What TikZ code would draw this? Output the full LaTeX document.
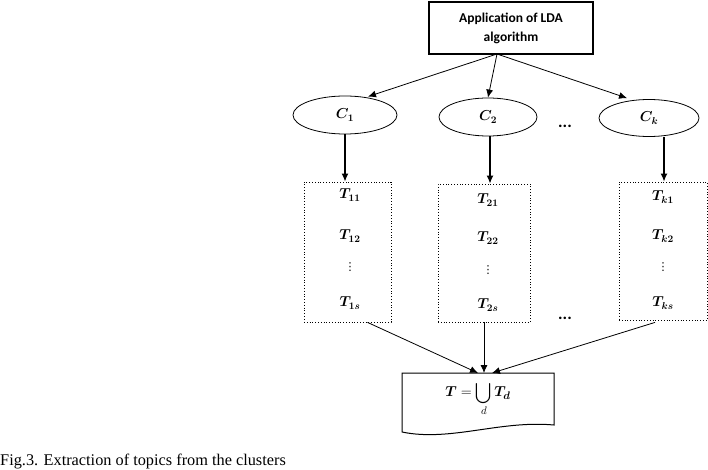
\documentclass[tikz,border=0pt]{standalone}
\usepackage{amsmath}
\usepackage{bm}
\usepackage{fontspec}
\setmainfont{Liberation Serif}
\newfontfamily\boxfont{Carlito}
\newfontfamily\symfont{DejaVu Sans}
\usetikzlibrary{shapes.geometric,arrows.meta,calc}
\begin{document}
\begin{tikzpicture}[x=1pt,y=-1pt,
  arr/.style={draw,line width=0.8pt,-{Latex[length=8pt,width=7pt]}},
  thickarr/.style={draw,line width=1.4pt,-{Latex[length=8pt,width=7pt]}},
  topbox/.style={draw,line width=1.2pt,minimum width=164pt,minimum height=52pt,inner sep=0pt,align=center,font=\boxfont\bfseries\fontsize{13.5}{19}\selectfont},
  clus/.style={draw,ellipse,line width=0.8pt,inner sep=0pt,font=\fontsize{14}{16}\selectfont},
  topics/.style={draw,dotted,line width=0.8pt,inner sep=0pt},
  tlab/.style={inner sep=0pt,font=\fontsize{14}{16}\selectfont},
  vlab/.style={inner sep=0pt,font=\symfont\fontsize{11}{12}\selectfont},
  dots/.style={inner sep=0pt,font=\boxfont\bfseries\fontsize{17}{17}\selectfont},
  sumbox/.style={minimum width=152pt,minimum height=52pt,inner sep=0pt,font=\fontsize{15}{17}\selectfont}
]
\useasboundingbox (0,0) rectangle (708,470);
% top box
\node[topbox] (lda) at (511,28) {Application of LDA\\algorithm};
\coordinate (tb) at (497,54);
% clusters
\node[clus,minimum width=104pt,minimum height=38pt] (c1) at (345,115) {$\bm{C_1}$};
\node[clus,minimum width=98pt,minimum height=38pt] (c2) at (488,117) {$\bm{C_2}$};
\node[clus,minimum width=100pt,minimum height=37pt] (ck) at (649,118) {$\bm{C_k}$};
\node[dots] (d1) at (565,126) {...};
% arrows to clusters
\draw[arr] (tb) -- ($(c1.north)+(23,1)$);
\draw[arr] (tb) -- (c2.north);
\draw[arr] (tb) -- ($(ck.north)+(-22,-1)$);
% topic boxes
\node[topics,minimum width=87pt,minimum height=140pt] (b1) at (347.5,252) {};
\node[topics,minimum width=92pt,minimum height=138pt] (b2) at (484,253) {};
\node[topics,minimum width=88pt,minimum height=138pt] (b3) at (663,251) {};
\node[dots] (d2) at (565,318) {...};
% arrows clusters -> boxes
\draw[thickarr] (c1.south) -- (c1.south |- b1.north);
\draw[thickarr] ($(c2.south)+(2,0)$) -- ($(c2.south |- b2.north)+(2,0)$);
\draw[thickarr] ($(ck.south)+(15,0)$) -- ($(ck.south |- b3.north)+(15,0)$);
% topic labels
\node[tlab] (t11) at (350,195) {$\bm{T_{11}}$};
\node[tlab] (t12) at (350,236) {$\bm{T_{12}}$};
\node[vlab] (t1v) at (350,267) {⋮};
\node[tlab] (t1s) at (350,303) {$\bm{T_{1s}}$};
\node[tlab] (t21) at (488,200) {$\bm{T_{21}}$};
\node[tlab] (t22) at (488,238) {$\bm{T_{22}}$};
\node[vlab] (t2v) at (488,270) {⋮};
\node[tlab] (t2s) at (488,305) {$\bm{T_{2s}}$};
\node[tlab] (tk1) at (663,197) {$\bm{T_{k1}}$};
\node[tlab] (tk2) at (663,236) {$\bm{T_{k2}}$};
\node[vlab] (tkv) at (663,267) {⋮};
\node[tlab] (tks) at (663,303) {$\bm{T_{ks}}$};
% result box
\node[sumbox] (sum) at (478,399) {$\bm{T} = \displaystyle\bigcup_{d}\bm{T_d}$};
\draw[line width=1pt] (402,425) -- (402,373) -- (554,373) -- (554,425)
  .. controls (500,420) and (450,442) .. (402,432) -- cycle;
\coordinate (s1) at (478,373);
\coordinate (s2) at (484,373);
\coordinate (s3) at (492,373);
\draw[arr] ($(b1.south)+(20,0)$) -- (s1);
\draw[arr] (b2.south) -- (s2);
\draw[arr] ($(b3.south)+(-8,2)$) -- (s3);
% caption
\node[anchor=base west,inner sep=0pt,font=\fontsize{16.3}{19}\selectfont] (cap) at (0,465) {Fig.3. Extraction of topics from the clusters};
\end{tikzpicture}
\end{document}
